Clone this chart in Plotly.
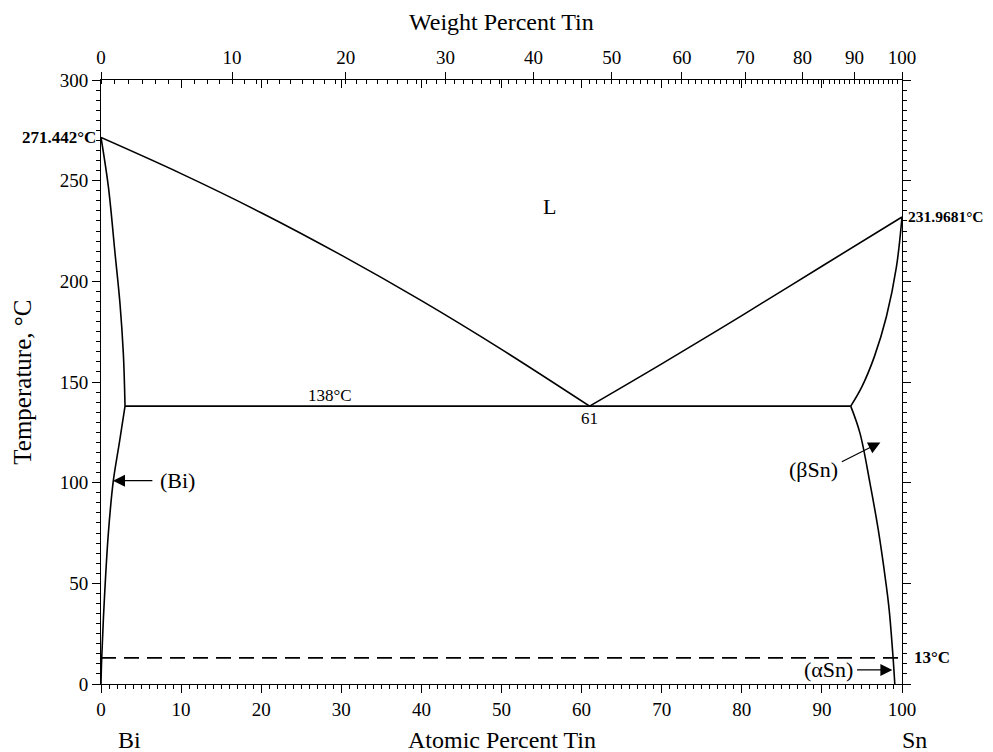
import plotly.graph_objects as go

# ---- data (atomic % Sn, temperature °C) ----
liq_left_x = [0, 10, 20, 30, 40, 50, 61]
liq_left_t = [271.442, 253.5, 234.1, 213.0, 190.4, 166.2, 138]
liq_right_x = [61, 70, 80, 90, 100]
liq_right_t = [138, 159, 183, 207.5, 231.9681]
bi_solidus_x = [0, 0.92, 1.75, 2.37, 2.79, 3.0]
bi_solidus_t = [271.442, 247, 214, 189, 164, 138]
bi_solvus_x = [3.0, 2.3, 1.54, 0.92, 0.42, 0.08, 0]
bi_solvus_t = [138, 120, 101, 75, 42, 12, 0]
sn_solidus_x = [100, 99.3, 98.05, 96.55, 95.0, 93.6]
sn_solidus_t = [231.9681, 207, 182.4, 162.6, 147.7, 138]
sn_solvus_x = [93.6, 94.76, 96.0, 97.04, 98.0, 98.4, 98.88, 99.1]
sn_solvus_t = [138, 124.5, 99.8, 76.5, 50, 36.8, 13.4, 0]
eutectic_x = [3.0, 93.6]
eutectic_t = [138, 138]
allotropic_x = [0, 100]
allotropic_t = [13, 13]

at_ticks = list(range(0, 101, 10))
wt_major = list(range(0, 101, 10))
wt_minor = list(range(0, 101, 1))
T_ticks = list(range(0, 301, 50))

M_SN = 118.71
M_BI = 208.98


def wt_to_at(w):
    if w <= 0:
        return 0.0
    if w >= 100:
        return 100.0
    a = w / M_SN
    b = (100 - w) / M_BI
    return 100 * a / (a + b)


FONT = "Liberation Serif"
LW = 1.6

fig = go.Figure()


def curve(x, y, shape="linear", dash="solid"):
    fig.add_trace(go.Scatter(x=x, y=y, mode="lines",
                             line=dict(color="black", width=LW, shape=shape, dash=dash),
                             hoverinfo="skip", showlegend=False))


curve(liq_left_x, liq_left_t, "spline")
curve(liq_right_x, liq_right_t, "spline")
curve(bi_solidus_x, bi_solidus_t, "spline")
curve(bi_solvus_x, bi_solvus_t, "spline")
curve(sn_solidus_x, sn_solidus_t, "spline")
curve(sn_solvus_x, sn_solvus_t, "spline")
curve(eutectic_x, eutectic_t)
curve(allotropic_x, allotropic_t, dash="15px,8px")

# invisible traces to activate overlay axes
fig.add_trace(go.Scatter(x=[0, 100], y=[0, 0], xaxis="x2", yaxis="y", mode="markers",
                         marker=dict(opacity=0), hoverinfo="skip", showlegend=False))
fig.add_trace(go.Scatter(x=[0, 100], y=[0, 0], xaxis="x3", yaxis="y", mode="markers",
                         marker=dict(opacity=0), hoverinfo="skip", showlegend=False))
fig.add_trace(go.Scatter(x=[0, 100], y=[0, 0], xaxis="x", yaxis="y2", mode="markers",
                         marker=dict(opacity=0), hoverinfo="skip", showlegend=False))

tickfont = dict(family=FONT, size=19, color="black")

fig.update_layout(
    width=985, height=744,
    margin=dict(l=93, r=91, t=72, b=68),
    paper_bgcolor="white", plot_bgcolor="white",
    font=dict(family=FONT, color="black"),
    xaxis=dict(range=[0, 100], tickvals=at_ticks, ticks="outside", ticklen=8,
               tickwidth=1, tickcolor="black", showline=True, linecolor="black",
               linewidth=1, showgrid=False, zeroline=False, tickfont=tickfont,
               automargin=False,
               minor=dict(dtick=1, ticks="outside", ticklen=4, tickcolor="black",
                          tickwidth=1, showgrid=False)),
    xaxis2=dict(range=[0, 100], overlaying="x", side="top",
                tickvals=[wt_to_at(w) for w in wt_major],
                ticktext=[str(w) for w in wt_major],
                ticks="outside", ticklen=7, tickwidth=1, tickcolor="black",
                showline=True, linecolor="black", linewidth=1, showgrid=False,
                zeroline=False, tickfont=tickfont, automargin=False,
                minor=dict(tickvals=[wt_to_at(w) for w in wt_minor], ticks="inside",
                           ticklen=4, tickcolor="black", tickwidth=1, showgrid=False)),
    xaxis3=dict(range=[0, 100], overlaying="x", side="top", tickvals=at_ticks,
                ticks="inside", ticklen=8, tickwidth=1, tickcolor="black",
                showticklabels=False, showline=False, showgrid=False, zeroline=False),
    yaxis=dict(range=[0, 300], tickvals=T_ticks, ticks="outside", ticklen=8,
               tickwidth=1, tickcolor="black", showline=True, linecolor="black",
               linewidth=1, showgrid=False, zeroline=False, tickfont=tickfont,
               automargin=False,
               minor=dict(dtick=5, ticks="outside", ticklen=4, tickcolor="black",
                          tickwidth=1, showgrid=False)),
    yaxis2=dict(range=[0, 300], overlaying="y", side="right", tickvals=T_ticks,
                ticks="outside", ticklen=8, tickwidth=1, tickcolor="black",
                showticklabels=False, showline=True, linecolor="black", linewidth=1,
                showgrid=False, zeroline=False,
                minor=dict(dtick=5, ticks="outside", ticklen=4, tickcolor="black",
                           tickwidth=1, showgrid=False)),
    showlegend=False,
)

ann = []


def text(x, y, s, size=17, xref="x", yref="y", xanchor="center", yanchor="middle",
         bold=False, xshift=0, yshift=0, textangle=0):
    if bold:
        s = "<b>" + s + "</b>"
    ann.append(dict(x=x, y=y, xref=xref, yref=yref, text=s, showarrow=False,
                    xanchor=xanchor, yanchor=yanchor, xshift=xshift, yshift=yshift,
                    textangle=textangle,
                    font=dict(family=FONT, size=size, color="black")))


# axis titles
text(0.5, -0.093, "Atomic Percent Tin", size=24, xref="paper", yref="paper")
text(0.5, 1.096, "Weight Percent Tin", size=24, xref="paper", yref="paper")
text(-0.099, 0.5, "Temperature, °C", size=25, xref="paper", yref="paper", textangle=-90)
text(0.036, -0.093, "Bi", size=24, xref="paper", yref="paper")
text(1.016, -0.093, "Sn", size=24, xref="paper", yref="paper")

# phase / point labels
text(0, 271.442, "271.442°C", size=17, xref="paper", xanchor="right", bold=True, xshift=-3)
text(1, 231.9681, "231.9681°C", size=15.5, xref="paper", xanchor="left", bold=True, xshift=4)
text(1, 13, "13°C", size=17, xref="paper", xanchor="left", bold=True, xshift=10)
text(56, 237, "L", size=22)
text(28.6, 138, "138°C", size=17, yanchor="bottom", yshift=-1)
text(61, 138, "61", size=17, yanchor="top", yshift=-1)
text(9.5, 101, "(Bi)", size=22)
text(88.9, 106.5, "(βSn)", size=22)
text(90.8, 7, "(αSn)", size=22)

# arrows
for tip, tail in [((1.5, 101), (6.6, 101)),
                  ((97.3, 120), (92.3, 110)),
                  ((98.8, 7), (94.2, 7))]:
    ann.append(dict(x=tip[0], y=tip[1], ax=tail[0], ay=tail[1], xref="x", yref="y",
                    axref="x", ayref="y", showarrow=True, arrowhead=2, arrowsize=2.0,
                    arrowwidth=1.2, arrowcolor="black", text=""))

fig.update_layout(annotations=ann)

fig.write_html("out.html")
